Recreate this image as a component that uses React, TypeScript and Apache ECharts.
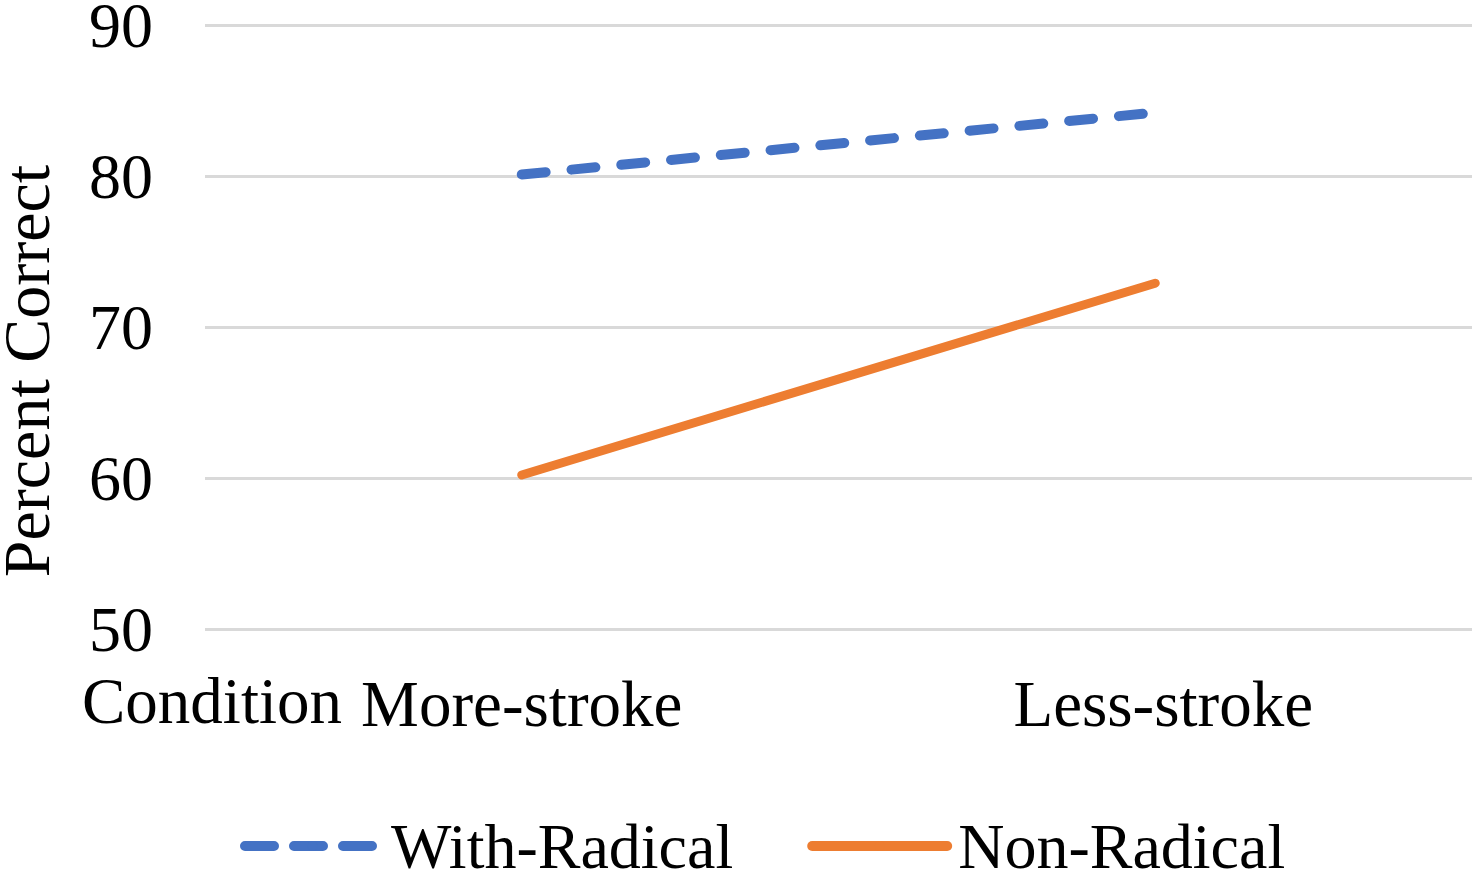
import React, { useEffect, useRef } from "react";
import * as echarts from "echarts";

const categories = ["More-stroke", "Less-stroke"];
const withRadical = [80.1, 84.2];
const nonRadical = [60.2, 72.9];
const yMin = 50;
const yMax = 90;
const yStep = 10;

const FONT = "'Liberation Serif', 'Times New Roman', serif";
const BLUE = "#4472C4";
const ORANGE = "#ED7D31";

export default function App() {
  const ref = useRef<HTMLDivElement>(null);

  useEffect(() => {
    if (!ref.current) return;
    const chart = echarts.init(ref.current, null, { renderer: "svg" });
    chart.setOption({
      animation: false,
      backgroundColor: "#ffffff",
      textStyle: { fontFamily: FONT, color: "#000" },
      grid: {
        left: 205,
        right: 3,
        top: 25,
        bottom: 243,
        containLabel: false,
        outerBoundsMode: "none",
      },
      xAxis: {
        type: "category",
        data: [
          categories[0],
          { value: categories[1], textStyle: { padding: [0, 0, 0, 16] } },
        ],
        boundaryGap: true,
        axisLine: { show: false },
        axisTick: { show: false },
        axisLabel: {
          color: "#000",
          fontFamily: FONT,
          fontSize: 65,
          margin: 42,
        },
        splitLine: { show: false },
      },
      yAxis: {
        type: "value",
        min: yMin,
        max: yMax,
        interval: yStep,
        axisLine: { show: false },
        axisTick: { show: false },
        axisLabel: {
          color: "#000",
          fontFamily: FONT,
          fontSize: 64,
          lineHeight: 46,
          margin: 52,
        },
        splitLine: { lineStyle: { color: "#d9d9d9", width: 3 } },
      },
      legend: {
        left: 235,
        top: 808,
        itemWidth: 135,
        itemHeight: 12,
        itemGap: 74,
        textStyle: {
          color: "#000",
          fontFamily: FONT,
          fontSize: 64,
          lineHeight: 50,
          padding: [0, 0, 16, 6],
        },
        data: [
          {
            name: "With-Radical",
            lineStyle: { type: [29, 20], width: 10, cap: "round", color: BLUE },
          },
          {
            name: "Non-Radical",
            lineStyle: { width: 10, cap: "round", color: ORANGE },
          },
        ],
      },
      graphic: [
        {
          type: "text",
          x: 26,
          y: 371,
          rotation: Math.PI / 2,
          style: {
            text: "Percent Correct",
            fontFamily: FONT,
            fontSize: 66,
            lineHeight: 50,
            fill: "#000",
            align: "center",
            verticalAlign: "middle",
          },
        },
        {
          type: "text",
          left: 82,
          top: 668,
          style: {
            text: "Condition",
            fontFamily: FONT,
            fontSize: 65,
            fill: "#000",
          },
        },
      ],
      series: [
        {
          name: "With-Radical",
          type: "line",
          data: withRadical,
          symbol: "none",
          lineStyle: { color: BLUE, width: 10, type: [24, 26], cap: "round" },
          itemStyle: { color: BLUE },
        },
        {
          name: "Non-Radical",
          type: "line",
          data: nonRadical,
          symbol: "none",
          lineStyle: { color: ORANGE, width: 9, cap: "round" },
          itemStyle: { color: ORANGE },
        },
      ],
    });
    return () => chart.dispose();
  }, []);

  return (
    <div
      ref={ref}
      style={{ position: "fixed", left: 0, top: 0, width: 1475, height: 872 }}
    />
  );
}
